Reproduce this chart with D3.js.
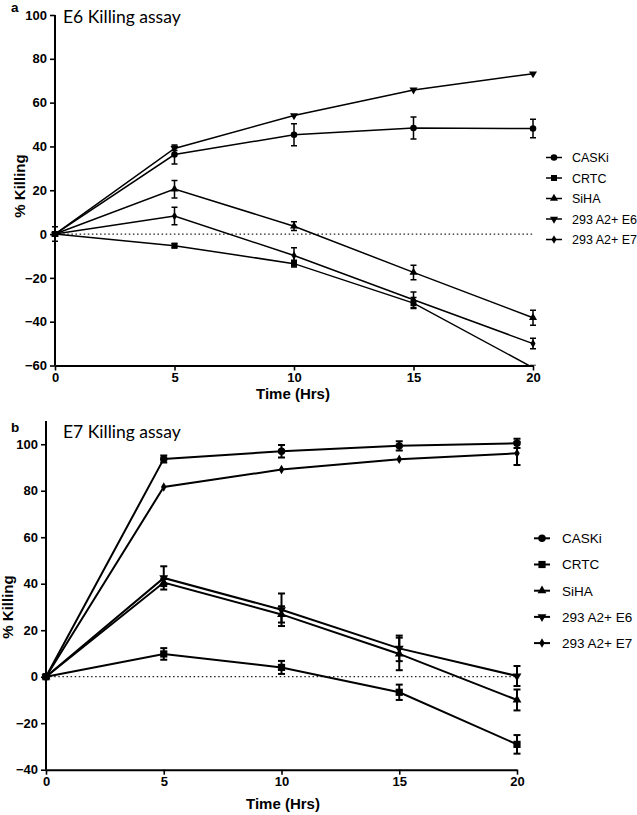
<!DOCTYPE html>
<html>
<head>
<meta charset="utf-8">
<script src="https://cdn.jsdelivr.net/npm/d3@7"></script>
<style>
  html, body { margin: 0; padding: 0; background: #fff; }
  svg { display: block; }
  .tick text { font-family: "Liberation Sans", Arial, sans-serif; font-weight: bold; }
</style>
</head>
<body>
<svg id="chart" width="637" height="815"></svg>
<script>
// ---------- data ----------
const hours = [0, 5, 10, 15, 20];
const seriesNames = ["CASKi", "CRTC", "SiHA", "293 A2+ E6", "293 A2+ E7"];
const xTicks = [0, 5, 10, 15, 20];
const yTicksA = [-60, -40, -20, 0, 20, 40, 60, 80, 100];
const yTicksB = [-40, -20, 0, 20, 40, 60, 80, 100];

// Panel a: E6 killing assay (mean, error)
const a_CASKi = [0, 36.3, 45.3, 48.4, 48.2];
const a_CASKi_err = [0, 4.3, 5, 5, 4.2];
const a_CRTC = [0, -5.3, -13.5, -31.5, -61];
const a_CRTC_err = [0, 1, 1.5, 2.5, 0];
const a_SiHA = [0, 20.5, 3.6, -17.5, -38.2];
const a_SiHA_err = [0, 4, 2, 3.3, 3.4];
const a_E6 = [0, 39.1, 54.1, 65.8, 73.2];
const a_E6_err = [0, 1, 0.5, 0.5, 0.5];
const a_E7 = [0, 8.2, -9.8, -30, -50];
const a_E7_err = [3.3, 4, 3.5, 3.5, 2.4];

// Panel b: E7 killing assay (mean, error)
const b_CASKi = [0, 93.7, 97, 99.3, 100.4];
const b_CASKi_err = [0, 1.5, 2.7, 2, 2];
const b_CRTC = [0, 9.8, 4, -6.7, -29.1];
const b_CRTC_err = [0, 2.5, 2.8, 3.3, 4];
const b_SiHA = [0, 40.5, 26.8, 9.8, -10];
const b_SiHA_err = [0, 1.5, 3.5, 7, 4.5];
const b_E6 = [0, 42.5, 28.8, 12.2, 0.3];
const b_E6_err = [0, 5, 7, 5.5, 4.3];
const b_E7 = [0, 81.6, 89.1, 93.5, 96.1];
const b_E7_err = [0, 0.5, 0.5, 0.5, 5];

// ---------- drawing ----------
const svg = d3.select("#chart");
const symbolTypes = [d3.symbolCircle, d3.symbolSquare, d3.symbolTriangle, d3.symbolTriangle, d3.symbolDiamond];
const symbolRot = [0, 0, 0, 180, 0];

function drawPanel(p) {
  const g = svg.append("g");
  const x = d3.scaleLinear().domain([0, 20]).range(p.xRange);
  const y = d3.scaleLinear().domain(p.yDomain).range(p.yRange);
  const id = "clip" + p.letter;
  svg.append("clipPath").attr("id", id).append("rect")
    .attr("x", p.xRange[0] - 10).attr("y", y(p.yDomain[1]) - 10)
    .attr("width", p.xRange[1] - p.xRange[0] + 20)
    .attr("height", y(p.yTicks[0]) - y(p.yDomain[1]) + 10);

  // zero dotted line
  g.append("line")
    .attr("x1", x(0)).attr("x2", x(20)).attr("y1", y(0)).attr("y2", y(0))
    .attr("stroke", "#222").attr("stroke-width", 1.3).attr("stroke-dasharray", "1.5,2.6");

  const plot = g.append("g").attr("clip-path", `url(#${id})`);
  p.series.forEach((vals, si) => {
    const errs = p.errors[si];
    const pts = hours.map((h, i) => ({ h, v: vals[i], e: errs[i] }));
    plot.append("path").datum(pts)
      .attr("fill", "none").attr("stroke", "#000").attr("stroke-width", p.lw)
      .attr("d", d3.line().x(d => x(d.h)).y(d => y(d.v)));
    pts.forEach(d => {
      if (d.e > 0.6) {
        const cx = x(d.h), y1 = y(d.v + d.e), y2 = y(d.v - d.e);
        plot.append("line").attr("x1", cx).attr("x2", cx).attr("y1", y1).attr("y2", y2)
          .attr("stroke", "#000").attr("stroke-width", p.lw);
        [y1, y2].forEach(yy => plot.append("line")
          .attr("x1", cx - p.cap).attr("x2", cx + p.cap).attr("y1", yy).attr("y2", yy)
          .attr("stroke", "#000").attr("stroke-width", p.lw));
      }
      plot.append("path")
        .attr("d", d3.symbol().type(symbolTypes[si]).size(p.symSize[si])())
        .attr("transform", `translate(${x(d.h)},${y(d.v)}) rotate(${symbolRot[si]})`)
        .attr("fill", "#000");
    });
  });

  // axes
  const yAxis = g.append("g").attr("transform", `translate(${p.xRange[0]},0)`)
    .call(d3.axisLeft(y).tickValues(p.yTicks).tickSize(5).tickPadding(3).tickSizeOuter(0));
  yAxis.select(".domain").attr("stroke-width", 2).attr("d", `M0,${y(p.yTicks[0])}V${y(p.yDomain[1])}`);
  yAxis.selectAll(".tick line").attr("stroke-width", 1.6);
  yAxis.selectAll(".tick text").attr("font-size", p.tickFont).attr("fill", "#000");

  const xAxis = g.append("g").attr("transform", `translate(0,${y(p.yTicks[0])})`)
    .call(d3.axisBottom(x).tickValues(xTicks).tickSize(5).tickPadding(2).tickSizeOuter(0));
  xAxis.select(".domain").attr("stroke-width", 2);
  xAxis.selectAll(".tick line").attr("stroke-width", 1.6);
  xAxis.selectAll(".tick text").attr("font-size", p.tickFont).attr("fill", "#000");

  // texts
  g.append("text").attr("x", p.letterPos[0]).attr("y", p.letterPos[1])
    .attr("font-family", "Liberation Sans, Arial, sans-serif").attr("font-weight", "bold")
    .attr("font-size", 13.5).text(p.letter);
  g.append("text").attr("x", p.titlePos[0]).attr("y", p.titlePos[1])
    .attr("font-family", "Lato, sans-serif").attr("font-size", 17.5).text(p.title);
  g.append("text").attr("x", p.xLabelPos[0]).attr("y", p.xLabelPos[1]).attr("text-anchor", "middle")
    .attr("font-family", "Liberation Sans, Arial, sans-serif").attr("font-weight", "bold")
    .attr("font-size", 15).text("Time (Hrs)");
  g.append("text").attr("transform", `translate(${p.yLabelPos[0]},${p.yLabelPos[1]}) rotate(-90)`)
    .attr("text-anchor", "middle")
    .attr("font-family", "Liberation Sans, Arial, sans-serif").attr("font-weight", "bold")
    .attr("font-size", 15).text("% Killing");

  // legend
  seriesNames.forEach((name, si) => {
    const ly = p.legendY + si * p.legendStep;
    const lx = p.legendX;
    g.append("line").attr("x1", lx - 8).attr("x2", lx + 8).attr("y1", ly).attr("y2", ly)
      .attr("stroke", "#000").attr("stroke-width", p.lw);
    g.append("path")
      .attr("d", d3.symbol().type(symbolTypes[si]).size(p.symSize[si])())
      .attr("transform", `translate(${lx},${ly}) rotate(${symbolRot[si]})`).attr("fill", "#000");
    g.append("text").attr("x", lx + p.legendTextDx).attr("y", ly).attr("dy", "0.36em")
      .attr("font-family", "Liberation Sans, Arial, sans-serif").attr("font-size", p.legendFont)
      .text(name);
  });
}

drawPanel({
  letter: "a", title: "E6 Killing assay",
  xRange: [55, 533], yDomain: [-60, 100], yRange: [365.5, 15], yTicks: yTicksA,
  series: [a_CASKi, a_CRTC, a_SiHA, a_E6, a_E7],
  errors: [a_CASKi_err, a_CRTC_err, a_SiHA_err, a_E6_err, a_E7_err],
  lw: 1.5, cap: 3, symSize: [34, 36, 28, 28, 22], tickFont: 13,
  letterPos: [11, 12], titlePos: [63, 23], xLabelPos: [293, 398.5], yLabelPos: [25, 186],
  legendX: 554, legendY: 157.5, legendStep: 20.5, legendTextDx: 18, legendFont: 12.5
});

drawPanel({
  letter: "b", title: "E7 Killing assay",
  xRange: [46, 517], yDomain: [-40, 110], yRange: [769.7, 421], yTicks: yTicksB,
  series: [b_CASKi, b_CRTC, b_SiHA, b_E6, b_E7],
  errors: [b_CASKi_err, b_CRTC_err, b_SiHA_err, b_E6_err, b_E7_err],
  lw: 2, cap: 3.5, symSize: [44, 52, 34, 34, 26], tickFont: 13,
  letterPos: [11, 432], titlePos: [63, 438], xLabelPos: [283, 809], yLabelPos: [13, 607],
  legendX: 542, legendY: 538.3, legendStep: 26.2, legendTextDx: 20, legendFont: 13.5
});
</script>
</body>
</html>
